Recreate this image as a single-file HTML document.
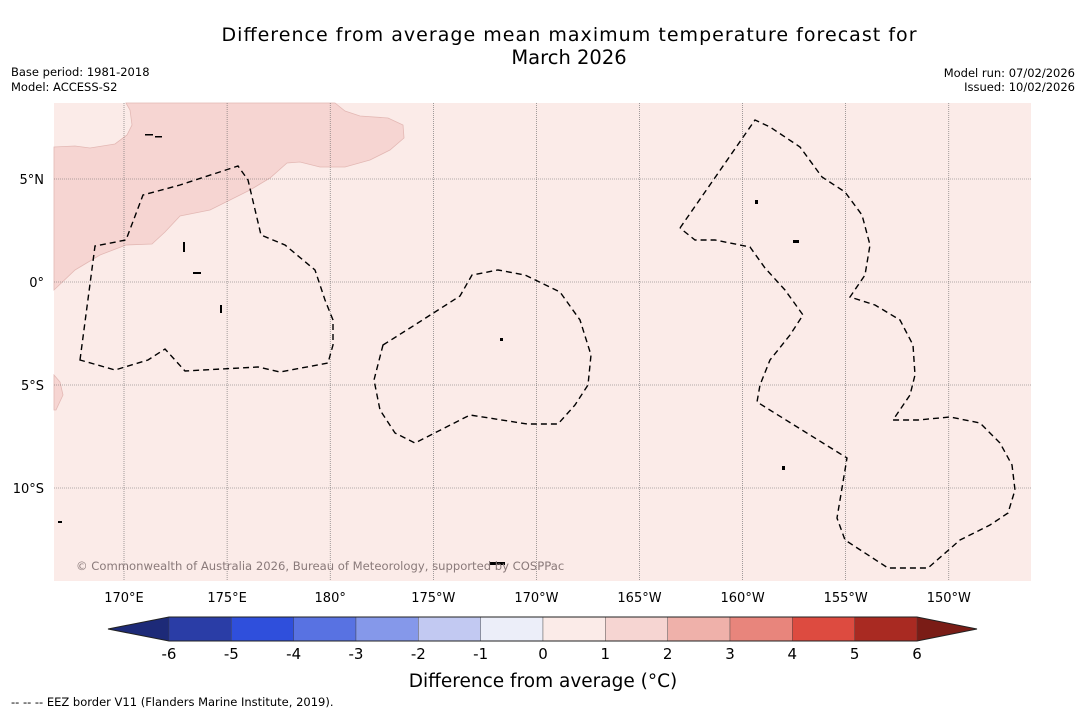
<!DOCTYPE html>
<html><head><meta charset="utf-8"><style>
body{margin:0;background:#fff;font-family:"Liberation Sans","DejaVu Sans",sans-serif}
svg text{font-family:"DejaVu Sans","Liberation Sans",sans-serif}
</style></head><body>
<svg id="chart" width="1085" height="713" xmlns="http://www.w3.org/2000/svg">
<text x="569" y="41" text-anchor="middle" font-size="19" textLength="695" lengthAdjust="spacing">Difference from average mean maximum temperature forecast for</text>
<text x="569" y="64" text-anchor="middle" font-size="19.5">March 2026</text>
<text x="11" y="76" font-size="11.5">Base period: 1981-2018</text>
<text x="11" y="91" font-size="11.5">Model: ACCESS-S2</text>
<text x="1075" y="77" text-anchor="end" font-size="11.5">Model run: 07/02/2026</text>
<text x="1075" y="91" text-anchor="end" font-size="11.5">Issued: 10/02/2026</text>
<g>
<rect x="54" y="103" width="977" height="478" fill="#fbebe8"/>
<path d="M54,147 L75,146 L90,148 L115,144 L127,135 L132,125 L130,110 L126,103 L335,103 L345,111 L360,116 L388,118 L403,125 L404,138 L390,150 L370,160 L345,167 L320,167 L300,162 L287,163 L270,178 L250,190 L230,200 L210,210 L180,216 L165,232 L152,244 L126,245 L100,255 L75,270 L54,290 Z" fill="#f6d5d2" stroke="#e3b8b4" stroke-width="0.8"/>
<path d="M54,375 L60,382 L63,395 L56,410 L54,410 Z" fill="#f6d5d2" stroke="#e3b8b4" stroke-width="0.8"/>
<g id="grid" stroke="#666" stroke-width="0.6" stroke-dasharray="1,1"></g>
<g fill="none" stroke="#000" stroke-width="1.4" stroke-dasharray="6,4">
<path d="M80,360 L95,246 L126,240 L143,195 L180,185 L238,166 L248,180 L261,235 L285,245 L315,270 L325,300 L333,320 L333,345 L328,363 L280,372 L258,367 L185,371 L165,349 L148,360 L115,370 Z"/>
<path d="M383,345 L410,328 L460,296 L472,275 L498,270 L525,275 L560,292 L580,320 L591,355 L588,385 L575,405 L558,424 L527,424 L470,415 L415,443 L395,433 L380,410 L374,380 Z"/>
<path d="M680,228 L755,120 L770,127 L800,147 L822,177 L845,192 L862,215 L870,245 L865,275 L850,297 L875,305 L900,320 L913,345 L915,375 L910,395 L893,420 L918,420 L950,417 L980,423 L1000,443 L1012,465 L1015,490 L1008,513 L990,525 L960,540 L928,568 L888,568 L845,540 L837,518 L847,458 L757,402 L760,385 L770,360 L790,335 L803,315 L785,290 L765,268 L750,247 L715,240 L695,240 L680,228"/>
</g>
<g fill="#000">
<rect x="145" y="134" width="8" height="1.5"/><rect x="155" y="136" width="7" height="1.5"/><rect x="183" y="242" width="2" height="10"/><rect x="193" y="272" width="8" height="2"/><rect x="220" y="305" width="2" height="8"/><rect x="490" y="562" width="15" height="3"/><rect x="755" y="200" width="3" height="4"/><rect x="793" y="240" width="6" height="3"/><rect x="782" y="466" width="3" height="4"/><rect x="500" y="338" width="3" height="3"/><rect x="58" y="521" width="4" height="2"/>
</g>
<text x="76" y="570" font-size="11.6" fill="#8a7a7a">© Commonwealth of Australia 2026, Bureau of Meteorology, supported by COSPPac</text>
</g>
<g id="axes" font-size="13"></g>
<g id="cbar"></g>
<text x="543" y="687" text-anchor="middle" font-size="18.5">Difference from average (°C)</text>
<text x="11" y="706" font-size="11.5">--  --  -- EEZ border V11 (Flanders Marine Institute, 2019).</text>
</svg>
<script>
const lonLabels=["170°E","175°E","180°","175°W","170°W","165°W","160°W","155°W","150°W"];
const lonValues=[170,175,180,185,190,195,200,205,210];
const latLabels=["5°N","0°","5°S","10°S"];
const latValues=[5,0,-5,-10];
const cbarTicks=[-6,-5,-4,-3,-2,-1,0,1,2,3,4,5,6];
const cbarColors=["#2a3da6","#2f4fdc","#5872e2","#8598ea","#c2c9f2","#eceef9","#fbebe8","#f6d5d2","#efb1aa","#e8857c","#dd4b40","#a92a22"];
const NS="http://www.w3.org/2000/svg";
const x=l=>124+(l-170)*20.62, y=t=>282-t*20.6;
const cb=v=>169+(v+6)*(917-169)/12;
function mk(tag,attrs,parent){const e=document.createElementNS(NS,tag);for(const k in attrs)e.setAttribute(k,attrs[k]);parent.appendChild(e);return e;}
const grid=document.getElementById('grid'),axes=document.getElementById('axes'),cbar=document.getElementById('cbar');
lonValues.forEach((v,i)=>{
 const l=mk('line',{x1:x(v),x2:x(v),y1:103,y2:581},grid);
 
 
 const t=mk('text',{x:x(v),y:602,'text-anchor':'middle'},axes);t.textContent=lonLabels[i];
 
 
});
latValues.forEach((v,i)=>{
 const l=mk('line',{x1:54,x2:1031,y1:y(v),y2:y(v)},grid);
 
 
 const t=mk('text',{x:44,y:y(v)+5,'text-anchor':'end'},axes);t.textContent=latLabels[i];
 
 
});
const low=mk('polygon',{points:`108,629 ${cb(-6)},617 ${cb(-6)},641`,fill:'#1d2a78'},cbar);


const high=mk('polygon',{points:`977,629 ${cb(6)},617 ${cb(6)},641`,fill:'#7a1c16'},cbar);


cbarColors.forEach((c,i)=>{
 const r=mk('rect',{x:cb(cbarTicks[i]),y:617,width:cb(cbarTicks[i+1])-cb(cbarTicks[i]),height:24,fill:c,stroke:'#444','stroke-width':0.4},cbar);
 
 
});
const ol=mk('polygon',{points:`108,629 ${cb(-6)},617 ${cb(6)},617 977,629 ${cb(6)},641 ${cb(-6)},641`,fill:'none',stroke:'#222','stroke-width':1},cbar);


cbarTicks.forEach(v=>{
 const t=mk('text',{x:cb(v),y:659,'text-anchor':'middle','font-size':15},cbar);t.textContent=String(v);
 
 
});
</script>
</body></html>
